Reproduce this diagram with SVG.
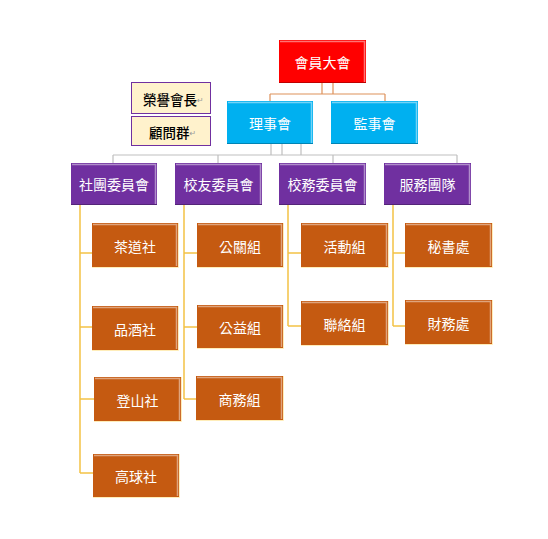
<svg xmlns="http://www.w3.org/2000/svg" width="548" height="539" viewBox="0 0 548 539">
<style>
  .box { stroke-width: 0; }
  .red { fill: #FF0000; }
  .blue { fill: #00B0F0; }
  .purple { fill: #7030A0; }
  .orange { fill: #C55A11; }
  .note { fill: #FFF2CC; stroke: #7030A0; stroke-width: 1; }
  .hi { fill: none; stroke: #FFFFFF; stroke-opacity: 0.45; stroke-width: 1.5; }
  .sh { fill: none; stroke: #000000; stroke-opacity: 0.25; stroke-width: 1; }
  .glow { fill: none; stroke: #FFE9A8; stroke-opacity: 0.8; stroke-width: 1; }
  .t { font-family: "Noto Sans CJK TC", "Noto Sans CJK SC", sans-serif; font-size: 14px; fill: #FFFFFF; text-anchor: middle; dominant-baseline: central; }
  .tb { font-family: "Noto Sans CJK TC", "Noto Sans CJK SC", sans-serif; font-size: 13.5px; fill: #000000; font-weight: 500; dominant-baseline: central; }
  .pm { font-family: "DejaVu Sans", sans-serif; font-size: 8px; fill: #999999; font-weight: normal; }
  .c-or { fill: none; stroke: #DE915A; stroke-width: 1.2; }
  .c-gr { fill: none; stroke: #BFBFBF; stroke-width: 1.2; }
  .c-ye { fill: none; stroke: #F3C246; stroke-width: 1.5; }
</style>

<g id="connectors">
  <path class="c-or" d="M322,83 V94 M333,83 V94 M270,94 H385 M270,94 V101 M385,94 V101"/>
  <path class="c-gr" d="M271,144 V155 M282,144 V155 M301,144 V155 M113,155 H457 M113,155 V163 M218,155 V163 M333,155 V163 M457,155 V163"/>
  <path class="c-ye" d="M80,205 V473 M80,253 H92 M80,327 H92 M80,399 H94 M80,473 H93"/>
  <path class="c-ye" d="M184,205 V399 M184,253 H197 M184,327 H197 M184,399 H196"/>
  <path class="c-ye" d="M288,205 V326 M288,253 H301 M288,326 H301"/>
  <path class="c-ye" d="M393,205 V326 M393,253 H405 M393,326 H405"/>
</g>

<g id="n-general">
  <rect class="box red" x="279" y="40" width="87" height="43"/>
  <path class="hi" d="M280,41.5 H365 M364.5,41 V82"/>
  <path class="sh" d="M279,82.5 H366"/>
  <text class="t" x="322.5" y="62">會員大會</text>
</g>

<g id="n-board">
  <rect class="box blue" x="227" y="101" width="86" height="43"/>
  <path class="hi" d="M228,102.5 H312 M311.5,102 V143"/>
  <path class="sh" d="M227,143.5 H313"/>
  <text class="t" x="270" y="123">理事會</text>
</g>

<g id="n-supervisors">
  <rect class="box blue" x="331" y="101" width="87" height="43"/>
  <path class="hi" d="M332,102.5 H417 M416.5,102 V143"/>
  <path class="sh" d="M331,143.5 H418"/>
  <text class="t" x="374.5" y="123">監事會</text>
</g>

<g id="n-honorary">
  <rect class="note" x="131.5" y="82.5" width="79" height="31"/>
  <text class="tb" x="143" y="98.5">榮譽會長<tspan class="pm" dy="1">↵</tspan></text>
</g>

<g id="n-advisors">
  <rect class="note" x="131.5" y="116.5" width="79" height="29"/>
  <text class="tb" x="149" y="131.5">顧問群<tspan class="pm" dy="1">↵</tspan></text>
</g>

<g id="n-clubs">
  <rect class="box purple" x="71" y="163" width="86" height="42"/>
  <path class="hi" d="M72,164.5 H156 M155.5,164 V204"/>
  <path class="sh" d="M71,204.5 H157"/>
  <text class="t" x="114" y="184">社團委員會</text>
</g>

<g id="n-alumni">
  <rect class="box purple" x="175" y="163" width="87" height="42"/>
  <path class="hi" d="M176,164.5 H261 M260.5,164 V204"/>
  <path class="sh" d="M175,204.5 H262"/>
  <text class="t" x="218.5" y="184">校友委員會</text>
</g>

<g id="n-affairs">
  <rect class="box purple" x="279" y="163" width="87" height="42"/>
  <path class="hi" d="M280,164.5 H365 M364.5,164 V204"/>
  <path class="sh" d="M279,204.5 H366"/>
  <text class="t" x="322.5" y="184">校務委員會</text>
</g>

<g id="n-service">
  <rect class="box purple" x="384" y="163" width="87" height="42"/>
  <path class="hi" d="M385,164.5 H470 M469.5,164 V204"/>
  <path class="sh" d="M384,204.5 H471"/>
  <text class="t" x="427.5" y="184">服務團隊</text>
</g>

<g id="n-tea">
  <rect class="box orange" x="92" y="223" width="86" height="44"/>
  <path class="hi" d="M93,224.5 H177 M176.5,224 V266"/>
  <path class="glow" d="M178.5,223 V267.5 H92"/>
  <text class="t" x="135" y="246">茶道社</text>
</g>

<g id="n-wine">
  <rect class="box orange" x="92" y="306" width="86" height="44"/>
  <path class="hi" d="M93,307.5 H177 M176.5,307 V349"/>
  <path class="glow" d="M178.5,306 V350.5 H92"/>
  <text class="t" x="135" y="329">品酒社</text>
</g>

<g id="n-hiking">
  <rect class="box orange" x="94" y="377" width="87" height="44"/>
  <path class="hi" d="M95,378.5 H180 M179.5,378 V420"/>
  <path class="glow" d="M181.5,377 V421.5 H94"/>
  <text class="t" x="137.5" y="400">登山社</text>
</g>

<g id="n-golf">
  <rect class="box orange" x="93" y="454" width="86" height="43"/>
  <path class="hi" d="M94,455.5 H178 M177.5,455 V496"/>
  <path class="glow" d="M179.5,454 V497.5 H93"/>
  <text class="t" x="136" y="476">高球社</text>
</g>

<g id="n-pr">
  <rect class="box orange" x="197" y="223" width="86" height="44"/>
  <path class="hi" d="M198,224.5 H282 M281.5,224 V266"/>
  <path class="glow" d="M283.5,223 V267.5 H197"/>
  <text class="t" x="240" y="246">公關組</text>
</g>

<g id="n-charity">
  <rect class="box orange" x="197" y="305" width="86" height="43"/>
  <path class="hi" d="M198,306.5 H282 M281.5,306 V347"/>
  <path class="glow" d="M283.5,305 V348.5 H197"/>
  <text class="t" x="240" y="327">公益組</text>
</g>

<g id="n-business">
  <rect class="box orange" x="196" y="376" width="87" height="44"/>
  <path class="hi" d="M197,377.5 H282 M281.5,377 V419"/>
  <path class="glow" d="M283.5,376 V420.5 H196"/>
  <text class="t" x="239.5" y="399">商務組</text>
</g>

<g id="n-events">
  <rect class="box orange" x="301" y="223" width="87" height="44"/>
  <path class="hi" d="M302,224.5 H387 M386.5,224 V266"/>
  <path class="glow" d="M388.5,223 V267.5 H301"/>
  <text class="t" x="344.5" y="246">活動組</text>
</g>

<g id="n-liaison">
  <rect class="box orange" x="301" y="301" width="87" height="44"/>
  <path class="hi" d="M302,302.5 H387 M386.5,302 V344"/>
  <path class="glow" d="M388.5,301 V345.5 H301"/>
  <text class="t" x="344.5" y="324">聯絡組</text>
</g>

<g id="n-secretariat">
  <rect class="box orange" x="405" y="223" width="87" height="44"/>
  <path class="hi" d="M406,224.5 H491 M490.5,224 V266"/>
  <path class="glow" d="M492.5,223 V267.5 H405"/>
  <text class="t" x="448.5" y="246">秘書處</text>
</g>

<g id="n-finance">
  <rect class="box orange" x="405" y="300" width="87" height="44"/>
  <path class="hi" d="M406,301.5 H491 M490.5,301 V343"/>
  <path class="glow" d="M492.5,300 V344.5 H405"/>
  <text class="t" x="448.5" y="323">財務處</text>
</g>
</svg>
